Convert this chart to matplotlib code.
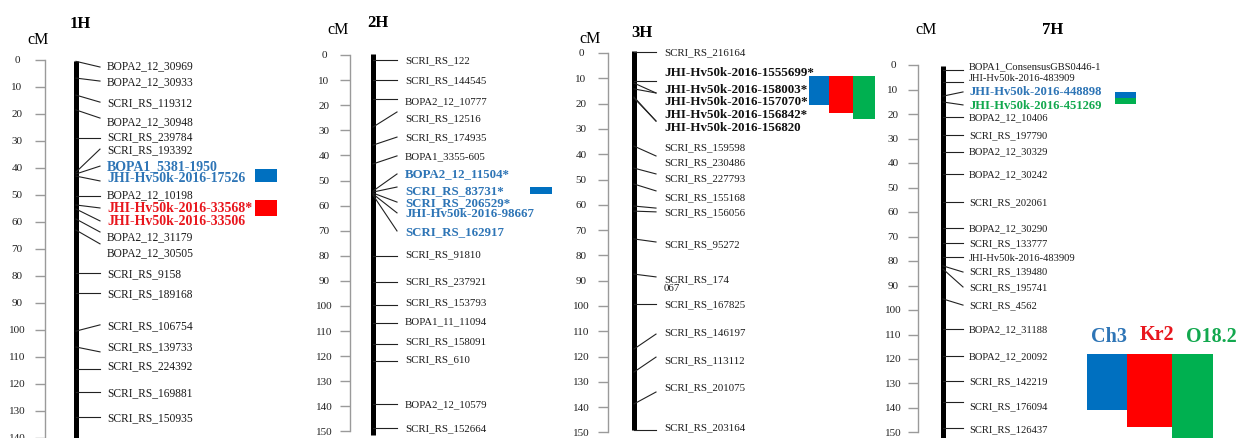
import matplotlib.pyplot as plt

W, H = 1238, 439
plt.rcParams['font.family'] = ['Liberation Serif', 'DejaVu Serif']

# ---------------- data (cM) ----------------
h1_names = ['BOPA2_12_30969', 'BOPA2_12_30933', 'SCRI_RS_119312', 'BOPA2_12_30948',
            'SCRI_RS_239784', 'SCRI_RS_193392', 'BOPA1_5381-1950', 'JHI-Hv50k-2016-17526',
            'BOPA2_12_10198', 'JHI-Hv50k-2016-33568*', 'JHI-Hv50k-2016-33506',
            'BOPA2_12_31179', 'BOPA2_12_30505', 'SCRI_RS_9158', 'SCRI_RS_189168',
            'SCRI_RS_106754', 'SCRI_RS_139733', 'SCRI_RS_224392', 'SCRI_RS_169881',
            'SCRI_RS_150935']
h1_pos = [0.5, 6.7, 13.0, 18.5, 28.9, 41.5, 42.2, 43.0, 50.4, 53.7, 55.2, 58.9, 63.0,
          78.9, 86.3, 100.4, 106.3, 114.4, 123.0, 132.2]
h1_tip = [2.6, 7.8, 15.6, 21.5, 28.9, 33.0, 39.3, 44.8, 50.4, 54.8, 59.6, 63.7, 68.1,
          78.9, 86.3, 98.1, 108.1, 114.4, 123.0, 132.2]
h1_lab = [1.9, 7.8, 15.6, 22.6, 28.1, 33.0, 39.3, 43.7, 49.6, 54.8, 59.6, 65.2, 71.1,
          78.9, 86.3, 98.1, 105.9, 113.0, 123.0, 132.2]
h1_qtl = ['', '', '', '', '', '', 'Ch3', 'Ch3', '', 'Kr2', 'Kr2',
          '', '', '', '', '', '', '', '', '']
h1_blocks = {'Ch3': (40.4, 45.2), 'Kr2': (51.9, 57.8)}
h1_length = (0.5, 165)
h1_ruler = (0, 140, 165)

h2_names = ['SCRI_RS_122', 'SCRI_RS_144545', 'BOPA2_12_10777', 'SCRI_RS_12516',
            'SCRI_RS_174935', 'BOPA1_3355-605', 'BOPA2_12_11504*', 'SCRI_RS_83731*',
            'SCRI_RS_206529*', 'JHI-Hv50k-2016-98667', 'SCRI_RS_162917', 'SCRI_RS_91810',
            'SCRI_RS_237921', 'SCRI_RS_153793', 'BOPA1_11_11094', 'SCRI_RS_158091',
            'SCRI_RS_610', 'BOPA2_12_10579', 'SCRI_RS_152664']
h2_pos = [2.0, 10.0, 17.5, 28.7, 35.9, 43.4, 54.2, 54.6, 55.0, 55.4, 55.8, 80.1,
          90.4, 99.6, 106.8, 115.1, 121.9, 139.0, 148.6]
h2_tip = [2.0, 10.0, 17.5, 22.7, 32.7, 40.2, 47.4, 52.6, 58.6, 62.9, 70.1, 80.1,
          90.4, 99.6, 106.8, 115.1, 121.9, 139.0, 148.6]
h2_lab = [2.0, 10.0, 18.3, 25.1, 32.7, 40.2, 47.0, 53.8, 58.6, 62.9, 70.1, 79.3,
          90.0, 98.4, 106.0, 113.9, 121.1, 139.0, 148.6]
h2_qtl = ['', '', '', '', '', '', 'Ch3', 'Ch3', 'Ch3', 'Ch3', 'Ch3',
          '', '', '', '', '', '', '', '']
h2_blocks = {'Ch3': (52.6, 55.4)}
h2_length = (-0.4, 151.4)
h2_ruler = (0, 150, 150)

h3_names = ['SCRI_RS_216164', 'JHI-Hv50k-2016-1555699*', 'JHI-Hv50k-2016-158003*',
            'JHI-Hv50k-2016-157070*', 'JHI-Hv50k-2016-156842*', 'JHI-Hv50k-2016-156820',
            'SCRI_RS_159598', 'SCRI_RS_230486', 'SCRI_RS_227793', 'SCRI_RS_155168',
            'SCRI_RS_156056', 'SCRI_RS_95272', 'SCRI_RS_174\n067', 'SCRI_RS_167825',
            'SCRI_RS_146197', 'SCRI_RS_113112', 'SCRI_RS_201075', 'SCRI_RS_203164']
h3_pos = [-0.4, 11.1, 11.9, 14.2, 17.4, 17.8, 36.8, 45.5, 51.8, 60.5, 62.5, 73.5,
          87.4, 99.2, 117.0, 126.1, 138.7, 149.0]
h3_tip = [-0.4, 11.1, 15.8, 15.8, 26.9, 26.9, 40.7, 47.8, 54.5, 61.3, 62.8, 74.7,
          88.5, 99.2, 111.1, 120.2, 134.0, 149.0]
h3_lab = [-0.4, 7.5, 14.2, 19.0, 24.1, 29.2, 37.2, 43.1, 49.4, 56.9, 62.8, 75.5,
          91.0, 99.2, 110.3, 121.3, 132.0, 147.8]
h3_qtl = ['', 'all', 'all', 'all', 'all', 'all', '', '', '', '', '', '', '', '',
          '', '', '', '']
h3_blocks = {'Ch3': (9.1, 20.6), 'Kr2': (9.1, 23.7), 'O18.2': (9.1, 26.1)}
h3_length = (-0.8, 149.0)
h3_ruler = (0, 150, 150)

h7_names = ['BOPA1_ConsensusGBS0446-1', 'JHI-Hv50k-2016-483909', 'JHI-Hv50k-2016-448898',
            'JHI-Hv50k-2016-451269', 'BOPA2_12_10406', 'SCRI_RS_197790', 'BOPA2_12_30329',
            'BOPA2_12_30242', 'SCRI_RS_202061', 'BOPA2_12_30290', 'SCRI_RS_133777',
            'JHI-Hv50k-2016-483909', 'SCRI_RS_139480', 'SCRI_RS_195741', 'SCRI_RS_4562',
            'BOPA2_12_31188', 'BOPA2_12_20092', 'SCRI_RS_142219', 'SCRI_RS_176094',
            'SCRI_RS_126437']
h7_pos = [2.0, 6.9, 12.7, 15.1, 21.2, 28.6, 35.5, 44.5, 55.9, 66.5, 72.7, 78.4,
          82.0, 83.3, 95.5, 107.8, 118.8, 129.0, 137.6, 148.2]
h7_tip = [2.0, 6.9, 11.0, 16.3, 21.2, 28.6, 35.5, 44.5, 55.9, 66.5, 72.7, 78.4,
          84.5, 90.6, 98.0, 107.8, 118.8, 129.0, 137.6, 148.2]
h7_lab = [0.4, 5.3, 10.6, 16.3, 21.2, 28.6, 35.1, 44.5, 55.9, 66.5, 72.7, 78.4,
          84.1, 90.6, 98.0, 107.8, 118.8, 129.0, 139.2, 148.6]
h7_qtl = ['', '', 'Ch3', 'O18.2', '', '', '', '', '', '', '', '', '', '', '', '',
          '', '', '', '']
h7_blocks = {'Ch3': (11.0, 13.5), 'O18.2': (13.5, 15.9)}
h7_length = (0.4, 165)
h7_ruler = (0, 150, 150)

traits = ['Ch3', 'Kr2', 'O18.2']
legend_top = 118.0
legend_bottom = [140.8, 147.8, 165.0]

# ---------------- style ----------------
BLOCK = {'Ch3': '#0070C0', 'Kr2': '#FF0000', 'O18.2': '#00B050'}
TEXT = {'': '#1a1a1a', 'Ch3': '#2E75B6', 'Kr2': '#E8161D', 'O18.2': '#12A84E', 'all': '#111111'}

# layout in figure pixels: y0 = pixel of 0 cM, s = pixels per cM
panels = [
    dict(title='1H', names=h1_names, pos=h1_pos, tip=h1_tip, lab=h1_lab, qtl=h1_qtl,
         blocks=h1_blocks, length=h1_length, ruler=h1_ruler,
         y0=61, s=2.70, rlx=17, rx=45, bx=76, tx=100, lx=107,
         cm=(38, 40), tt=(80, 24), fs=8.3, fb=10.0,
         bxs={'Ch3': (255, 277), 'Kr2': (255, 277)}),
    dict(title='2H', names=h2_names, pos=h2_pos, tip=h2_tip, lab=h2_lab, qtl=h2_qtl,
         blocks=h2_blocks, length=h2_length, ruler=h2_ruler,
         y0=56, s=2.51, rlx=324, rx=350, bx=373, tx=397, lx=405,
         cm=(338, 30), tt=(378, 23), fs=7.8, fb=9.3,
         bxs={'Ch3': (530, 552)}),
    dict(title='3H', names=h3_names, pos=h3_pos, tip=h3_tip, lab=h3_lab, qtl=h3_qtl,
         blocks=h3_blocks, length=h3_length, ruler=h3_ruler,
         y0=54, s=2.53, rlx=581, rx=608, bx=634, tx=656, lx=664,
         cm=(590, 39), tt=(642, 33), fs=7.8, fb=9.4,
         bxs={'Ch3': (809, 829), 'Kr2': (829, 853), 'O18.2': (853, 875)}),
    dict(title='7H', names=h7_names, pos=h7_pos, tip=h7_tip, lab=h7_lab, qtl=h7_qtl,
         blocks=h7_blocks, length=h7_length, ruler=h7_ruler,
         y0=66, s=2.45, rlx=893, rx=918, bx=943, tx=963, lx=969,
         cm=(926, 30), tt=(1053, 30), fs=7.6, fb=9.1,
         bxs={'Ch3': (1115, 1136), 'O18.2': (1115, 1136)}),
]

fig = plt.figure(figsize=(W / 100, H / 100), dpi=100)

for p in panels:
    ax = fig.add_axes([0, 0, 1, 1])
    ax.set_xlim(0, W)
    ax.set_ylim((H - p['y0']) / p['s'], -p['y0'] / p['s'])
    ax.axis('off')

    # cM ruler
    r0, r1, rend = p['ruler']
    ticks = list(range(r0, r1 + 1, 10))
    ax.plot([p['rx'], p['rx']], [r0, rend], color='#9a9a9a', lw=1.0)
    ax.hlines(ticks, p['rx'] - 10, p['rx'], color='#9a9a9a', lw=1.0)
    for t in ticks:
        ax.text(p['rlx'], t, str(t), ha='center', va='center', fontsize=8, color='#222222')

    # chromosome
    ax.plot([p['bx'], p['bx']], list(p['length']), color='black', lw=3.6,
            solid_capstyle='butt')

    # markers
    for name, pos, tip, lab, q in zip(p['names'], p['pos'], p['tip'], p['lab'], p['qtl']):
        ax.plot([p['bx'], p['tx']], [pos, tip], color='#222222', lw=0.8)
        bold = q != ''
        ax.text(p['lx'], lab, name, ha='left', va='center', linespacing=1.0,
                fontsize=p['fb'] if bold else p['fs'],
                fontweight='bold' if bold else 'normal', color=TEXT[q])

    # QTL intervals
    for q, (top, bot) in p['blocks'].items():
        x0, x1 = p['bxs'][q]
        ax.bar((x0 + x1) / 2, bot - top, bottom=top, width=x1 - x0,
               color=BLOCK[q], edgecolor='none')

    fig.text(p['cm'][0] / W, 1 - p['cm'][1] / H, 'cM', ha='center', va='center',
             fontsize=11.5)
    fig.text(p['tt'][0] / W, 1 - p['tt'][1] / H, p['title'], ha='center', va='center',
             fontsize=12, fontweight='bold')

# legend boxes drawn on the 7H scale
leg_x = [(1087, 1127), (1127, 1172), (1172, 1213)]
leg_txt = [(1109, 337), (1157, 335), (1211, 337)]
for q, bot, (x0, x1), (tx, ty) in zip(traits, legend_bottom, leg_x, leg_txt):
    ax.bar((x0 + x1) / 2, bot - legend_top, bottom=legend_top, width=x1 - x0,
           color=BLOCK[q], edgecolor='none')
    fig.text(tx / W, 1 - ty / H, q, ha='center', va='center', fontsize=14.5,
             fontweight='bold', color=TEXT[q])

fig.savefig('out.png', dpi=100)
